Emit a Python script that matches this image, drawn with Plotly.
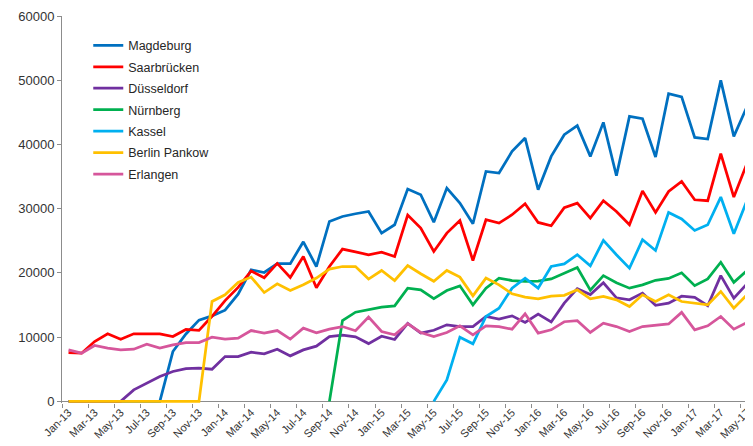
import plotly.graph_objects as go

months = ["Jan-13", "Feb-13", "Mar-13", "Apr-13", "May-13", "Jun-13", "Jul-13", "Aug-13", "Sep-13", "Oct-13", "Nov-13", "Dec-13",
          "Jan-14", "Feb-14", "Mar-14", "Apr-14", "May-14", "Jun-14", "Jul-14", "Aug-14", "Sep-14", "Oct-14", "Nov-14", "Dec-14",
          "Jan-15", "Feb-15", "Mar-15", "Apr-15", "May-15", "Jun-15", "Jul-15", "Aug-15", "Sep-15", "Oct-15", "Nov-15", "Dec-15",
          "Jan-16", "Feb-16", "Mar-16", "Apr-16", "May-16", "Jun-16", "Jul-16", "Aug-16", "Sep-16", "Oct-16", "Nov-16", "Dec-16",
          "Jan-17", "Feb-17", "Mar-17", "Apr-17", "May-17", "Jun-17"]

magdeburg = [0, 0, 0, 0, 0, 0, 0, 0, 7760, 10500, 12650, 13320,
             14200, 16700, 20490, 20070, 21450, 21450, 24850, 21000, 28020, 28790, 29210, 29570,
             26200, 27500, 33060, 32170, 27900, 33210, 30870, 27650, 35800, 35550, 38920, 41000,
             32950, 38140, 41520, 42920, 38140, 43440, 35130, 44370, 44000, 38050, 47910, 47400,
             41100, 40850, 49980, 41260, 45840, 44750]

saarbruecken = [7600, 7510, 9320, 10520, 9690, 10520, 10520, 10520, 10100, 11200, 11060, 13250,
                15700, 17750, 20300, 19250, 21480, 19300, 22560, 17700, 21000, 23710, 23270, 22830,
                23240, 22560, 29000, 26980, 23340, 26200, 28170, 21940, 28280, 27760, 29060, 30760,
                27860, 27340, 30170, 30870, 28530, 31240, 29570, 27500, 32770, 29420, 32690, 34250,
                31390, 31240, 38560, 31810, 37000, 34000]

duesseldorf = [0, 0, 0, 0, 0, 1790, 2830, 3870, 4650, 5090, 5170, 5010,
               6980, 6980, 7660, 7400, 8130, 7090, 8020, 8600, 10100, 10300, 10050, 9000,
               10150, 9640, 12150, 10630, 11080, 11920, 11650, 11650, 13220, 12800, 13320, 12280,
               13600, 12360, 15300, 17550, 16640, 18460, 16130, 15810, 16860, 14950, 15300, 16380,
               16200, 14900, 19580, 16080, 18280, 16860]

nuernberg = [None] * 20 + [0, 12590, 13890, 14260,
             14670, 14880, 17630, 17370, 16000, 17260, 17990, 15030, 17630, 19190, 18820, 18670,
             18720, 19060, 19970, 20830, 17310, 19580, 18460, 17630, 18150, 18850, 19140, 20020,
             18020, 19060, 21660, 18540, 20350, 17890]

kassel = [None] * 28 + [0, 3350, 10000, 8960, 13220, 14520, 17630, 19190,
          17630, 21000, 21400, 22830, 21110, 25060, 22830, 20750, 25160, 23500, 29420, 28400,
          26620, 27500, 31810, 26100, 31240, 30200]

berlin_pankow = [0, 0, 0, 0, 0, 0, 0, 0, 0, 0, 0, 15550,
                 16590, 18510, 19350, 16950, 18310, 17260, 18150, 19200, 20590, 21000, 21000, 19040,
                 20380, 18820, 21160, 19870, 18700, 20380, 19350, 16440, 19190, 18150, 16750, 16230,
                 15950, 16380, 16520, 17370, 15970, 16330, 15810, 14770, 16590, 15550, 16590, 15550,
                 15300, 15030, 17110, 14520, 16590, 14800]

erlangen = [8020, 7510, 8700, 8290, 8020, 8130, 8910, 8290, 8800, 9160, 9160, 10000,
            9690, 9850, 11030, 10630, 11030, 9690, 11400, 10680, 11240, 11650, 11000, 13120,
            10880, 10360, 12100, 10730, 10100, 10730, 11760, 10360, 11760, 11650, 11240, 13630,
            10630, 11140, 12400, 12570, 10730, 12180, 11650, 10880, 11650, 11900, 12050, 13860,
            11140, 11760, 13220, 11240, 12280, 10630]

series_names = ["Magdeburg", "Saarbrücken", "Düsseldorf", "Nürnberg", "Kassel", "Berlin Pankow", "Erlangen"]
series_values = [magdeburg, saarbruecken, duesseldorf, nuernberg, kassel, berlin_pankow, erlangen]
series_colors = ["#0070C0", "#FF0000", "#7030A0", "#00B050", "#00B0F0", "#FFC000", "#D6569B"]

y_ticks = [0, 10000, 20000, 30000, 40000, 50000, 60000]

fig = go.Figure()
for name, vals, col in zip(series_names, series_values, series_colors):
    fig.add_trace(go.Scatter(
        x=months, y=vals, name=name, mode="lines",
        line=dict(color=col, width=2.75),
        legendgroup=name, connectgaps=False,
    ))

axis_gray = "#8C8C8C"
# the page body has an 8px default margin, so the figure is sized/offset to compensate
fig.update_layout(
    width=745, height=438,
    margin=dict(l=54, r=0, t=8, b=43),
    paper_bgcolor="white", plot_bgcolor="white",
    font=dict(family="Liberation Sans, Arial, sans-serif", color="#333333"),
    showlegend=True,
    legend=dict(
        x=0.038, y=0.962, xanchor="left", yanchor="top",
        bgcolor="rgba(255,255,255,0)", borderwidth=0,
        font=dict(size=12.5, color="#262626"),
        traceorder="grouped", tracegroupgap=2.2,
    ),
    xaxis=dict(
        type="category", categoryorder="array", categoryarray=months,
        range=[-0.5, 52.47],
        tickmode="linear", tick0=0, dtick=2,
        tickson="boundaries",
        ticks="outside", ticklen=4, tickcolor=axis_gray, tickwidth=1,
        tickangle=-45, tickfont=dict(size=11, color="#333333"),
        showgrid=False, showline=False, zeroline=False,
        automargin=False, layer="below traces",
    ),
    yaxis=dict(
        range=[-250, 60000],
        tickmode="array", tickvals=y_ticks, ticktext=[str(v) for v in y_ticks],
        ticks="outside", ticklen=4, tickcolor=axis_gray, tickwidth=1,
        tickfont=dict(size=13, color="#333333"),
        showgrid=False, showline=True, linecolor=axis_gray, linewidth=1,
        zeroline=True, zerolinecolor=axis_gray, zerolinewidth=1,
        automargin=False, layer="below traces",
    ),
)

fig.write_html("out.html")
